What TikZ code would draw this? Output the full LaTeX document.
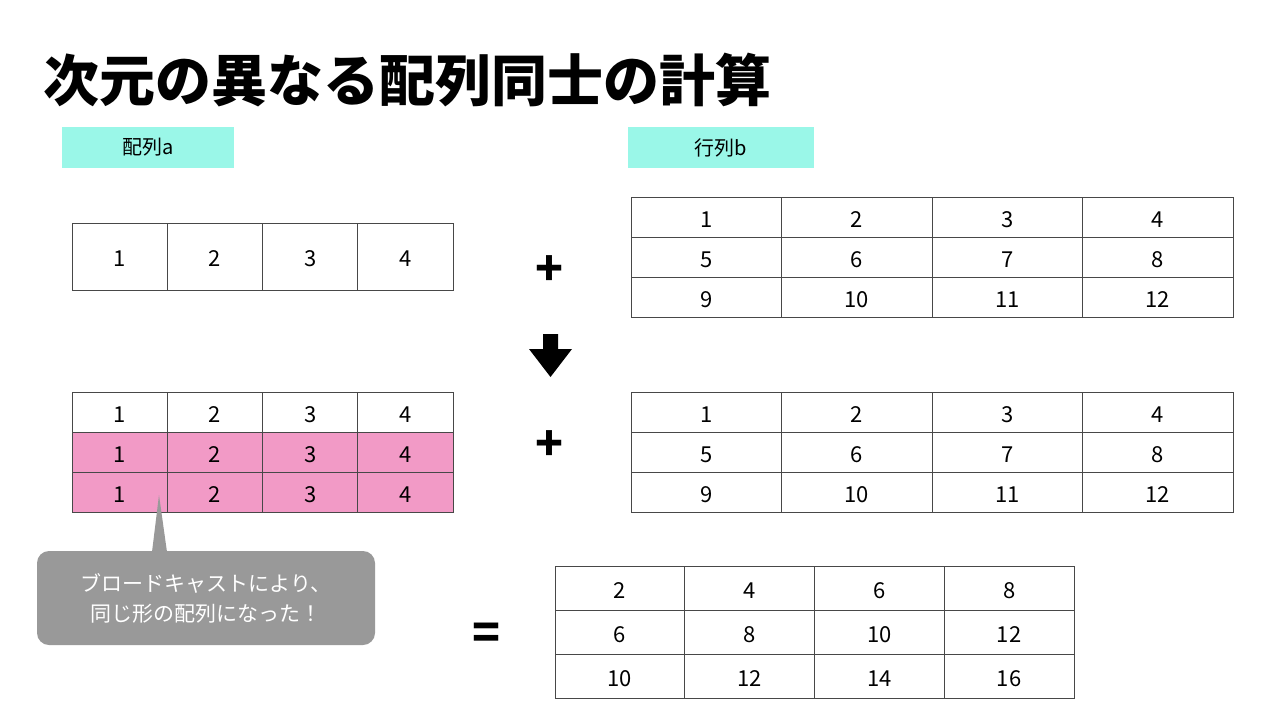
\documentclass[tikz,border=0pt]{standalone}
\usepackage{fontspec}
\setmainfont{Noto Sans CJK JP}
\definecolor{aqua}{HTML}{9AF7E8}
\definecolor{bcpink}{HTML}{F29AC6}
\definecolor{linegray}{HTML}{484848}
\definecolor{notegray}{HTML}{999999}
\tikzset{
cell/.style={draw=linegray, line width=1pt, inner sep=0pt, text height=20pt, text depth=0pt, font=\fontsize{22}{24}\selectfont},
namebox/.style={fill=aqua, minimum width=172pt, minimum height=41pt, inner sep=0pt, font=\fontsize{20}{22}\selectfont},
opsign/.style={inner sep=0pt, font=\bfseries\fontsize{46}{48}\selectfont}
}
\begin{document}
\begin{tikzpicture}[x=1pt, y=-1pt]
\useasboundingbox (0,0) rectangle (1280,720);
\node[anchor=west, inner sep=0pt, font=\bfseries\fontsize{56}{60}\selectfont] (title) at (43,80) {次元の異なる配列同士の計算};

\node[namebox] (namea) at (148,147.5) {配列a};
\node[namebox, minimum width=186pt] (nameb) at (721,147.5) {行列b};

% array a
\pgfmathsetmacro{\aw}{95.25}
\foreach \c in {1,2,3,4}
{
\node[cell, minimum width=\aw, minimum height=67] (a-\c) at ({72+\aw*(\c-0.5)},256.5) {\c};
}

% matrix b, before and after
\pgfmathsetmacro{\bw}{150.5}
\foreach \r in {1,2,3}
{
\foreach \c in {1,2,3,4}
{
\pgfmathtruncatemacro{\v}{(\r-1)*4+\c}
\node[cell, minimum width=\bw, minimum height=40] (bt-\r-\c) at ({631+\bw*(\c-0.5)},{197+40*(\r-0.5)}) {\v};
\node[cell, minimum width=\bw, minimum height=40] (bb-\r-\c) at ({631+\bw*(\c-0.5)},{392+40*(\r-0.5)}) {\v};
}
}

% broadcast a
\foreach \r in {1,2,3}
{
\foreach \c in {1,2,3,4}
{
\ifnum\r=1
\node[cell, minimum width=\aw, minimum height=40] (ab-\r-\c) at ({72+\aw*(\c-0.5)},{392+40*(\r-0.5)}) {\c};
\else
\node[cell, fill=bcpink, minimum width=\aw, minimum height=40] (ab-\r-\c) at ({72+\aw*(\c-0.5)},{392+40*(\r-0.5)}) {\c};
\fi
}
}

% result
\pgfmathsetmacro{\rw}{129.75}
\foreach \r in {1,2,3}
{
\foreach \c in {1,2,3,4}
{
\pgfmathtruncatemacro{\v}{2*\c+4*(\r-1)}
\node[cell, minimum width=\rw, minimum height=44] (res-\r-\c) at ({555+\rw*(\c-0.5)},{566+44*(\r-0.5)}) {\v};
}
}

\node[opsign] (plustop) at (550,271) {+};
\node[opsign] (plusbot) at (550,446) {+};
\node[opsign] (equal) at (487,636) {=};

% down arrow
\fill (543,334) -- (558,334) -- (558,349) -- (572,349) -- (550.5,377) -- (529,349) -- (543,349) -- cycle;

% callout
\node[fill=notegray, rounded corners=12pt, minimum width=338pt, minimum height=94pt, align=center, text=white, font=\fontsize{21}{30}\selectfont] (note) at (206,598) {ブロードキャストにより、\\同じ形の配列になった！};
\coordinate (tip) at (159,495);
\fill[notegray] (152,552) -- (tip) -- (167,552) -- cycle;

\end{tikzpicture}
\end{document}
